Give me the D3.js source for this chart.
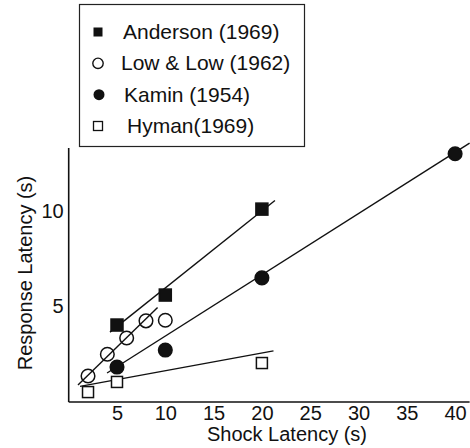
<!DOCTYPE html>
<html>
<head>
<meta charset="utf-8">
<script src="https://cdn.jsdelivr.net/npm/d3@7"></script>
<style>
  body { margin: 0; background: #fff; }
  text { font-family: "Liberation Sans", Arial, Helvetica, sans-serif; fill: #111; }
</style>
</head>
<body>
<svg width="470" height="448"></svg>
<script>
// data (shock latency s, response latency s)
const anderson = [[5, 4.03], [10, 5.6], [20, 10.1]];
const lowLow = [[2, 1.36], [4, 2.5], [6, 3.35], [8, 4.25], [10, 4.28]];
const kamin = [[5, 1.83], [10, 2.72], [20, 6.5], [40, 13.0]];
const hyman = [[2, 0.52], [5, 1.05], [20, 2.04]];

// fitted lines, endpoints [x0, y0, x1, y1]
const andersonFit = [4.27, 3.66, 21.35, 10.55];
const lowLowFit = [0.96, 0.89, 9.2, 4.95];
const kaminFit = [3.97, 1.52, 41.5, 13.56];
const hymanFit = [1.17, 0.82, 21.2, 2.68];

const xTicks = [5, 10, 15, 20, 25, 30, 35, 40];
const yTicks = [5, 10];
const legendNames = ["Anderson (1969)", "Low & Low (1962)", "Kamin (1954)", "Hyman(1969)"];

const svg = d3.select("svg");

const x = d3.scaleLinear().domain([0, 41.5]).range([68.7, 469.6]);
const y = d3.scaleLinear().domain([0, 13.3]).range([402, 148]);

// axes (no tick marks, just labels)
svg.append("g")
   .attr("transform", `translate(0,${y(0)})`)
   .call(d3.axisBottom(x).tickValues(xTicks).tickSize(0).tickPadding(4))
   .call(g => g.select(".domain").attr("stroke", "#111").attr("stroke-width", 1.6).attr("d", `M${x(0)},0H${x(41.5)}`))
   .call(g => g.selectAll("text").attr("font-size", 20).attr("font-family", "Liberation Sans, Arial, sans-serif").attr("fill", "#111"));

svg.append("g")
   .attr("transform", `translate(${x(0)},0)`)
   .call(d3.axisLeft(y).tickValues(yTicks).tickSize(0).tickPadding(5))
   .call(g => g.select(".domain").attr("stroke", "#111").attr("stroke-width", 1.6).attr("d", `M0,${y(13.3)}V${y(0)}`))
   .call(g => g.selectAll("text").attr("font-size", 20).attr("font-family", "Liberation Sans, Arial, sans-serif").attr("fill", "#111"));

// axis titles
svg.append("text")
   .attr("x", 287).attr("y", 441)
   .attr("text-anchor", "middle")
   .attr("font-size", 20)
   .text("Shock Latency (s)");

svg.append("text")
   .attr("transform", `translate(32,273) rotate(-90)`)
   .attr("text-anchor", "middle")
   .attr("font-size", 20)
   .text("Response Latency (s)");

// fit lines
[andersonFit, lowLowFit, kaminFit, hymanFit].forEach(f => {
  svg.append("line")
     .attr("x1", x(f[0])).attr("y1", y(f[1]))
     .attr("x2", x(f[2])).attr("y2", y(f[3]))
     .attr("stroke", "#111")
     .attr("stroke-width", 1.4);
});

// markers
function square(g, data, size, filled) {
  g.selectAll(null).data(data).enter().append("rect")
   .attr("x", d => x(d[0]) - size / 2)
   .attr("y", d => y(d[1]) - size / 2)
   .attr("width", size).attr("height", size)
   .attr("fill", filled ? "#111" : "#fff")
   .attr("stroke", "#111")
   .attr("stroke-width", 1.5);
}
function circle(g, data, r, filled) {
  g.selectAll(null).data(data).enter().append("circle")
   .attr("cx", d => x(d[0]))
   .attr("cy", d => y(d[1]))
   .attr("r", r)
   .attr("fill", filled ? "#111" : "none")
   .attr("stroke", "#111")
   .attr("stroke-width", 1.5);
}

const marks = svg.append("g");
square(marks, hyman, 11, false);
circle(marks, kamin, 6.8, true);
circle(marks, lowLow, 6.8, false);
square(marks, anderson, 12, true);

// legend
const legend = svg.append("g");
legend.append("rect")
  .attr("x", 79.5).attr("y", 4.5)
  .attr("width", 225).attr("height", 142)
  .attr("fill", "#fff")
  .attr("stroke", "#222")
  .attr("stroke-width", 1.2);

const rowY = d3.scalePoint().domain(legendNames).range([32, 126]);
const textX = [123, 121, 124, 127];
const symX = 98;

legendNames.forEach((name, i) => {
  const cy = rowY(name);
  if (i === 0) legend.append("rect").attr("x", symX - 4.5).attr("y", cy - 4.5).attr("width", 9).attr("height", 9).attr("fill", "#111");
  if (i === 1) legend.append("circle").attr("cx", symX).attr("cy", cy).attr("r", 5.2).attr("fill", "none").attr("stroke", "#111").attr("stroke-width", 1.4);
  if (i === 2) legend.append("circle").attr("cx", symX + 1).attr("cy", cy).attr("r", 5.5).attr("fill", "#111");
  if (i === 3) legend.append("rect").attr("x", symX - 4.5).attr("y", cy - 4.5).attr("width", 9).attr("height", 9).attr("fill", "none").attr("stroke", "#111").attr("stroke-width", 1.3);
  legend.append("text")
    .attr("x", textX[i]).attr("y", cy + 7)
    .attr("font-size", 21)
    .text(name);
});
</script>
</body>
</html>
